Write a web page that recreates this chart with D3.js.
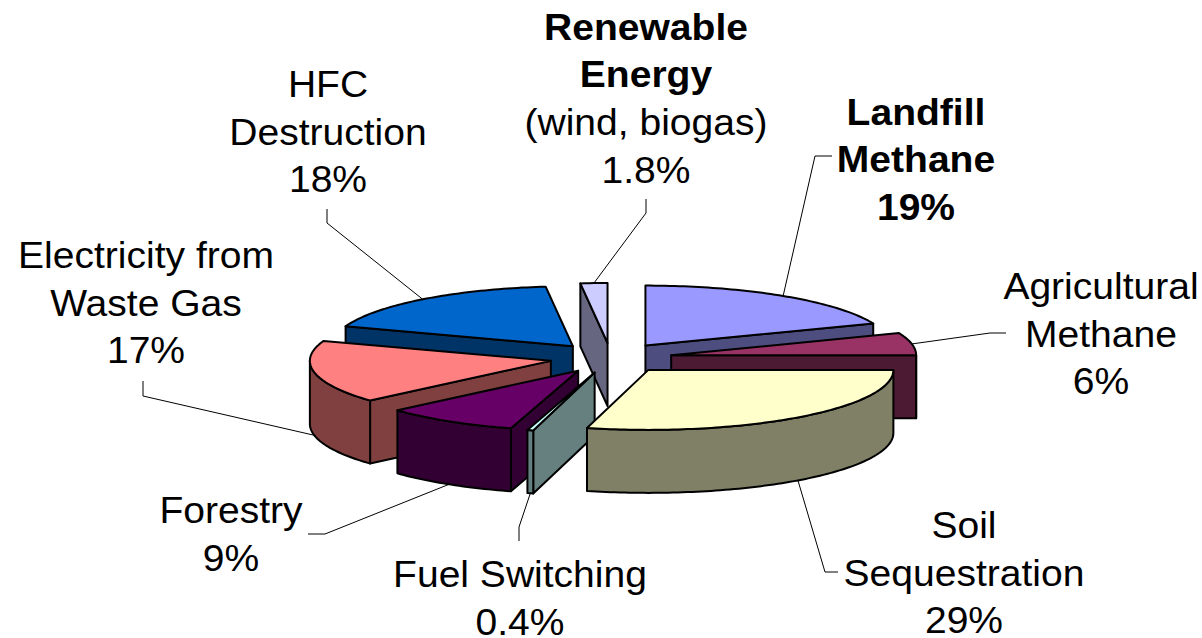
<!DOCTYPE html>
<html>
<head>
<meta charset="utf-8">
<script src="https://cdn.jsdelivr.net/npm/d3@7"></script>
<style>
  body { margin: 0; background: #fff; }
  text { font-family: "Liberation Sans", Arial, sans-serif; fill: #000; }
</style>
</head>
<body>
<div id="chart"></div>
<script>
const categories = ["Landfill Methane", "Agricultural Methane", "Soil Sequestration", "Fuel Switching",
    "Forestry", "Electricity from Waste Gas", "HFC Destruction", "Renewable Energy"];
const values = [19, 6, 29.1, 0.4, 9, 16.9, 17.8, 1.8];
const label_lines = [
    ["Landfill", "Methane"],
    ["Agricultural", "Methane"],
    ["Soil", "Sequestration"],
    ["Fuel Switching"],
    ["Forestry"],
    ["Electricity from", "Waste Gas"],
    ["HFC", "Destruction"],
    ["Renewable", "Energy", "(wind, biogas)"]
];
const top_colors = ["#9999FF", "#993366", "#FFFFCC", "#CCFFFF", "#660066", "#FF8080", "#0066CC", "#CCCCFF"];

// how the picture is laid out, one row per category
const label_center_x = [916, 1101, 964, 520, 231, 146, 328, 646];
const label_first_baseline = [124.5, 299, 538, 587, 523, 268, 97, 39.5];
const bold_line_count = [3, 0, 0, 0, 0, 0, 0, 2];
const leader_start = [[832, 156], [1006, 333], [838, 572], [519, 541], [308, 534], [143, 381], [327, 209], [646, 199]];
const leader_elbow = [[815, 156], [990, 333], [825, 572], [519, 527], [325, 534], [143, 396], [327, 223], [646, 213]];

// painter's order, back to front
const draw_order = [7, 6, 0, 1, 5, 4, 3, 2];

const width = 1202, height = 638;
const center = {x: 611, y: 358};
const radius_x = 245, radius_x_left = 241, radius_y = 60, depth = 63, explode = 0.25;
const line_height = 47.7, font_size = 36.5, text_stretch = 1.07;

const svg = d3.select("#chart")
    .append("svg")
    .attr("width", width)
    .attr("height", height);

const pie = d3.pie().sort(null).startAngle(0).endAngle(2 * Math.PI);
const slices = pie(values);

const line = d3.line();

// a point on the tilted ellipse, the left side sits a little further off
function project(angle, r) {
    const rx = (Math.sin(angle) < 0 && r === 1) ? radius_x_left : radius_x;
    return [rx * r * Math.sin(angle), -radius_y * r * Math.cos(angle)];
}

function slice_origin(d) {
    const mid = (d.startAngle + d.endAngle) / 2;
    const p = project(mid, explode);
    return [center.x + p[0], center.y + p[1]];
}

function rim_points(a0, a1, origin, drop) {
    const n = Math.max(2, Math.ceil((a1 - a0) / 0.02));
    return d3.range(n + 1).map(i => {
        const p = project(a0 + (a1 - a0) * i / n, 1);
        return [origin[0] + p[0], origin[1] + p[1] + drop];
    });
}

function radial_wall(angle, origin) {
    const p = project(angle, 1);
    const rim = [origin[0] + p[0], origin[1] + p[1]];
    return [origin, rim, [rim[0], rim[1] + depth], [origin[0], origin[1] + depth]];
}

function add_face(g, points, fill) {
    g.append("path")
        .attr("d", line(points) + "Z")
        .attr("fill", fill)
        .attr("stroke", "#000")
        .attr("stroke-width", 2)
        .attr("stroke-linejoin", "round");
}

function label_value(v) {
    return (v < 5 ? v : Math.round(v)) + "%";
}

// leaders go under the pie
const leaders = svg.append("g").attr("class", "leaders");
slices.forEach((d, i) => {
    const mid = (d.startAngle + d.endAngle) / 2;
    const origin = slice_origin(d);
    const p = project(mid, 1);
    const front = Math.cos(mid) < 0;
    const anchor = [origin[0] + p[0], origin[1] + p[1] + (front ? depth : 0)];
    leaders.append("path")
        .attr("d", line([leader_start[i], leader_elbow[i], anchor]))
        .attr("fill", "none")
        .attr("stroke", "#000")
        .attr("stroke-width", 1);
});

const pie_group = svg.append("g").attr("class", "pie");
draw_order.forEach(i => {
    const d = slices[i];
    const origin = slice_origin(d);
    const top = d3.rgb(top_colors[i]);
    const wall = d3.rgb(top.r / 2, top.g / 2, top.b / 2).formatHex();
    const g = pie_group.append("g").attr("class", "slice").attr("data-name", categories[i]);

    // radial walls, only when they face the viewer
    if (Math.sin(d.startAngle) < -1e-6) add_face(g, radial_wall(d.startAngle, origin), wall);
    if (Math.sin(d.endAngle) > 1e-6) add_face(g, radial_wall(d.endAngle, origin), wall);

    // outer wall: the part of the rim on the front half
    const a0 = Math.max(d.startAngle, Math.PI / 2), a1 = Math.min(d.endAngle, Math.PI * 1.5);
    if (a1 > a0) {
        add_face(g, rim_points(a0, a1, origin, 0).concat(rim_points(a0, a1, origin, depth).reverse()), wall);
    }

    // top
    add_face(g, [origin].concat(rim_points(d.startAngle, d.endAngle, origin, 0)), top_colors[i]);
});

// labels
const labels = svg.append("g").attr("class", "labels");
categories.forEach((name, i) => {
    const lines = label_lines[i].concat(label_value(values[i]));
    lines.forEach((txt, k) => {
        labels.append("text")
            .attr("transform", `translate(${label_center_x[i]},${label_first_baseline[i] + k * line_height}) scale(${text_stretch},1)`)
            .attr("text-anchor", "middle")
            .attr("font-size", font_size)
            .attr("font-weight", k < bold_line_count[i] ? "bold" : "normal")
            .text(txt);
    });
});
</script>
</body>
</html>
